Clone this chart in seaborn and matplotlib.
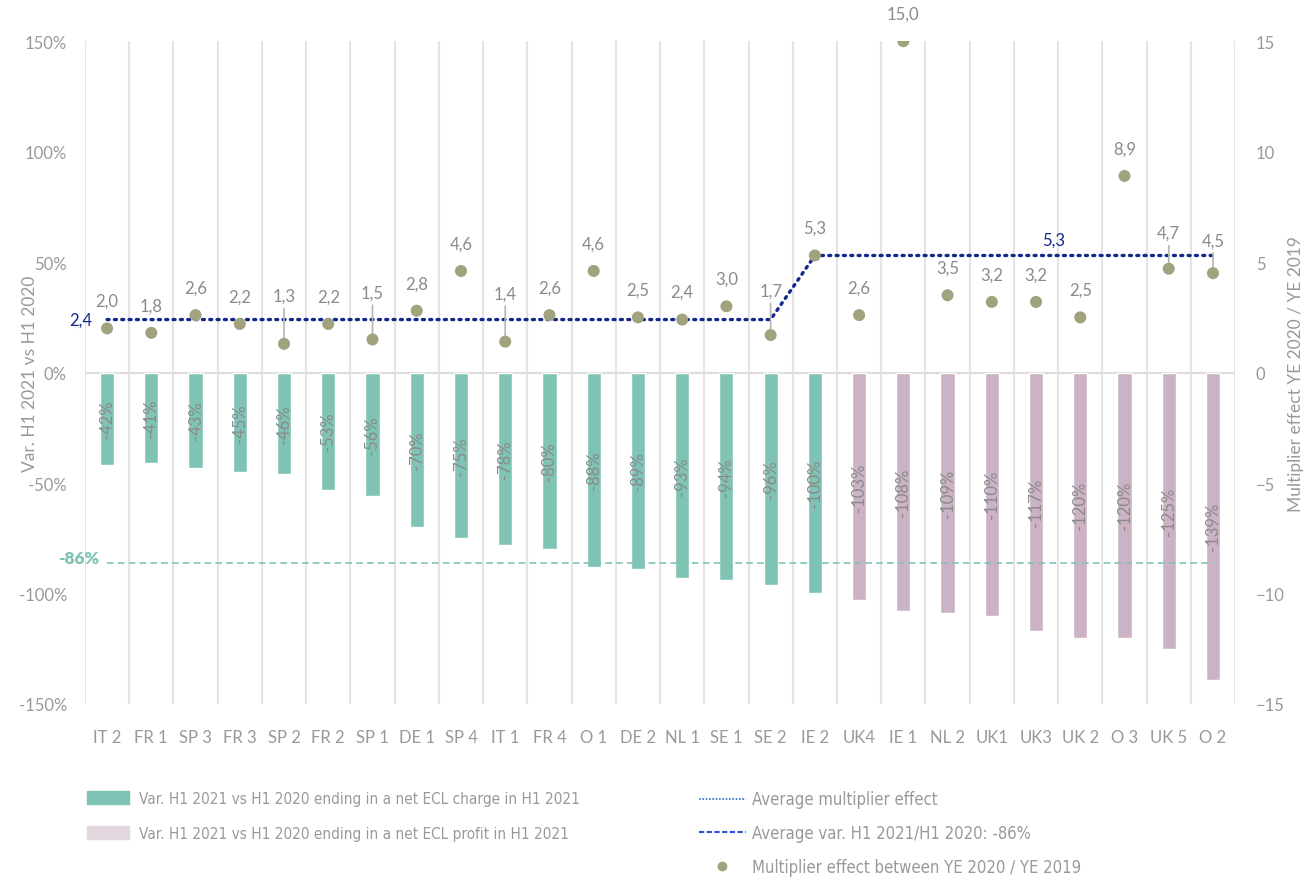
import matplotlib
matplotlib.use('Agg')
import matplotlib.pyplot as plt
import matplotlib.patches as mpatches
from matplotlib.lines import Line2D
import seaborn as sns
import pandas as pd
import numpy as np

# data
categories = ['IT 2', 'FR 1', 'SP 3', 'FR 3', 'SP 2', 'FR 2', 'SP 1', 'DE 1', 'SP 4', 'IT 1', 'FR 4', 'O 1', 'DE 2',
              'NL 1', 'SE 1', 'SE 2', 'IE 2', 'UK4', 'IE 1', 'NL 2', 'UK1', 'UK3', 'UK 2', 'O 3', 'UK 5', 'O 2']
variation = [-42, -41, -43, -45, -46, -53, -56, -70, -75, -78, -80, -88, -89,
             -93, -94, -96, -100, -103, -108, -109, -110, -117, -120, -120, -125, -139]
groups = ['charge'] * 17 + ['profit'] * 9
multiplier = [2.0, 1.8, 2.6, 2.2, 1.3, 2.2, 1.5, 2.8, 4.6, 1.4, 2.6, 4.6, 2.5,
              2.4, 3.0, 1.7, 5.3, 2.6, 15.0, 3.5, 3.2, 3.2, 2.5, 8.9, 4.7, 4.5]
avg_multiplier = [2.4] * 16 + [5.3] * 10
avg_variation = -86

# colours
teal = '#7fc3b5'
pink = '#cbb3c5'
olive = '#a0a37e'
navy = '#14288c'
grey = '#999999'

# label offsets (points) for dot labels, default 14, leader lines on some
label_off = {4: 29, 6: 28, 9: 29, 15: 26, 24: 20, 25: 18}

sns.set_style('white')
plt.rcParams['font.family'] = ['Lato', 'DejaVu Sans']

df = pd.DataFrame({'cat': categories, 'var': variation, 'group': groups})

fig = plt.figure(figsize=(13.07, 8.79), dpi=100)
ax = fig.add_axes([0.065, 0.198, 0.880, 0.754])

# grid
ax.vlines(np.arange(-0.5, len(categories)), -150, 150, color='#e4e4e4', lw=1.5, zorder=0)
ax.axhline(0, color='#dddddd', lw=1.5, zorder=0)

sns.barplot(data=df, x='cat', y='var', hue='group', palette={'charge': teal, 'profit': pink},
            dodge=False, width=0.32, saturation=1, legend=False, ax=ax, zorder=2)
for c in ax.containers:
    ax.bar_label(c, labels=[f'{v:.0f}%' for v in c.datavalues], label_type='center',
                 rotation=90, color='#8a8a8a', fontsize=12)

ax.plot([0, len(categories) - 1], [avg_variation, avg_variation], color=teal, ls=(0, (4, 2.5)), lw=1.2, zorder=3)
ax.text(-0.17, avg_variation + 2, f'{avg_variation}%', color=teal, fontsize=12.5, fontweight='heavy',
        ha='right', va='center', zorder=5)

ax.set_xlim(-0.5, len(categories) - 0.5)
ax.set_ylim(-150, 150)
ax.set_yticks(np.arange(-150, 151, 50))
ax.set_yticklabels([f'{t}%' for t in range(-150, 151, 50)])
ax.tick_params(axis='y', length=0, pad=13, colors=grey, labelsize=12)
ax.tick_params(axis='x', length=0, pad=18, colors=grey, labelsize=12)
ax.set_xlabel('')
ax.set_ylabel('Var. H1 2021 vs H1 2020', color=grey, fontsize=12.5)
ax.yaxis.set_label_coords(-0.041, 0.5)
sns.despine(ax=ax, left=True, bottom=True, right=True, top=True)

# secondary axis
ax2 = ax.twinx()
pos = np.arange(len(categories))
sns.lineplot(x=pos, y=avg_multiplier, sort=False, color=navy, lw=2.4, ls=(0, (0.6, 1.6)),
             dash_capstyle='round', ax=ax2, zorder=3)
sns.scatterplot(x=pos, y=multiplier, color=olive, s=75, edgecolor='none', ax=ax2, zorder=4)
for i, v in enumerate(multiplier):
    off = label_off.get(i, 14)
    props = dict(arrowstyle='-', color='#b5b5b5', lw=1.2, shrinkA=1, shrinkB=4) if i in label_off else None
    ax2.annotate(f'{v:.1f}'.replace('.', ','), (i, v), xytext=(0, off), textcoords='offset points',
                 ha='center', va='bottom', color='#8a8a8a', fontsize=12, arrowprops=props)
ax2.text(-0.34, avg_multiplier[0], f'{avg_multiplier[0]:.1f}'.replace('.', ','), color=navy,
         fontsize=12, ha='right', va='center')
ax2.text(21.4, avg_multiplier[-1] + 0.35, f'{avg_multiplier[-1]:.1f}'.replace('.', ','), color=navy,
         fontsize=12, ha='center', va='bottom')
ax2.set_ylim(-15, 15)
ax2.set_yticks(np.arange(-15, 16, 5))
ax2.tick_params(axis='y', length=0, pad=15, colors=grey, labelsize=12)
ax2.set_ylabel('Multiplier effect YE 2020 / YE 2019', color=grey, fontsize=12.5)
ax2.yaxis.set_label_coords(1.046, 0.5)
sns.despine(ax=ax2, left=True, bottom=True, right=True, top=True)

# legends
h_left = [mpatches.Patch(color=teal), mpatches.Patch(color='#e4d8e0')]
l_left = ['Var. H1 2021 vs H1 2020 ending in a net ECL charge in H1 2021',
          'Var. H1 2021 vs H1 2020 ending in a net ECL profit in H1 2021']
leg1 = fig.legend(h_left, l_left, loc='upper left', bbox_to_anchor=(0.0557, 0.115), frameon=False,
                  labelspacing=1.3, handlelength=2.8, handleheight=0.9, handletextpad=0.65,
                  prop={'family': ['DejaVu Sans'], 'stretch': 'condensed', 'size': 11})
for t in leg1.get_texts():
    t.set_color(grey)
h_right = [Line2D([], [], color='#2a6fd0', ls=(0, (1, 1)), lw=1.2),
           Line2D([], [], color='#2a4fe0', ls=(0, (2.5, 1.2)), lw=1.5),
           Line2D([], [], color=olive, marker='o', ls='none', markersize=6)]
l_right = ['Average multiplier effect', 'Average var. H1 2021/H1 2020: -86%',
           'Multiplier effect between YE 2020 / YE 2019']
leg2 = fig.legend(h_right, l_right, loc='upper left', bbox_to_anchor=(0.526, 0.113), frameon=False,
                  labelspacing=0.95, handlelength=2.8, handletextpad=0.35, borderpad=0.2,
                  prop={'family': ['DejaVu Sans'], 'stretch': 'condensed', 'size': 12})
for t in leg2.get_texts():
    t.set_color(grey)

fig.savefig('out.png', dpi=100)
